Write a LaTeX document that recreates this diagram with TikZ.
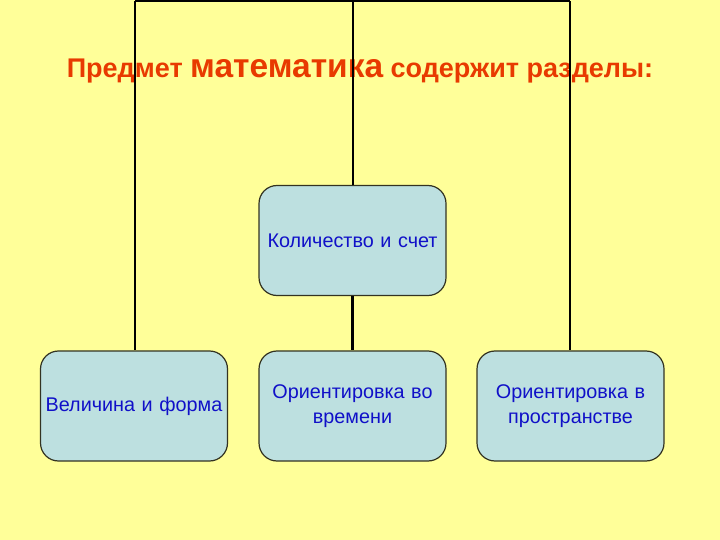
\documentclass[tikz,border=0pt]{standalone}
\usepackage{fontspec}
\setmainfont{Liberation Sans}
\definecolor{bg}{HTML}{FFFF99}
\definecolor{boxfill}{HTML}{BDE0E0}
\definecolor{boxline}{HTML}{333322}
\definecolor{txtblue}{HTML}{1010C8}
\definecolor{titlered}{HTML}{E83A00}
\begin{document}
\begin{tikzpicture}[x=1pt,y=-1pt,
  boxnode/.style={draw=boxline,line width=1.2pt,fill=boxfill,rounded corners=18pt,
    minimum width=187pt,minimum height=110pt,text width=186pt,align=center,
    font=\fontsize{19.8}{25}\selectfont,text=txtblue,inner sep=0pt},
  conn/.style={line width=2.6pt,black}]
\useasboundingbox (0,0) rectangle (720,540);
\fill[bg] (0,0) rectangle (720,540);
\node[font=\bfseries\fontsize{27}{32}\selectfont,text=titlered,anchor=base] (title) at (360,78)
  {Предмет {\fontsize{33.5}{38}\selectfont математика} содержит разделы:};
\coordinate (tl) at (135,1);
\coordinate (tm) at (353,1);
\coordinate (tr) at (570,1);
\node[boxnode] (kol) at (352.5,240.5) {Количество и счет};
\node[boxnode] (vel) at (134,406) {Величина и форма};
\node[boxnode] (vrem) at (352.5,406) {Ориентировка во\\времени};
\node[boxnode] (prost) at (570.5,406) {Ориентировка в\\пространстве};
\draw[conn] (tl) -- (tr);
\draw[conn] (tl) -- (vel.north -| tl);
\draw[conn] (tr) -- (prost.north -| tr);
\draw[conn] (tm) -- (kol.north -| tm);
\draw[conn] (kol.south) -- (vrem.north);
\end{tikzpicture}
\end{document}
